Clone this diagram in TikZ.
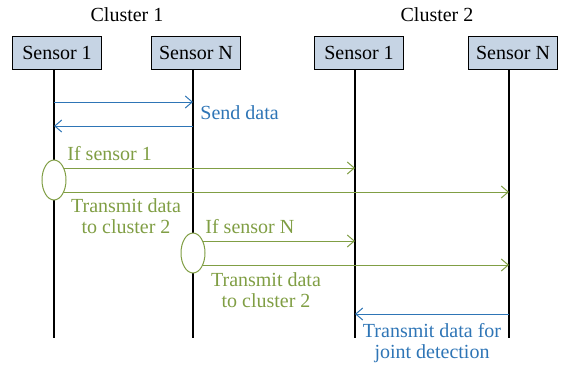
\documentclass[tikz,border=0pt]{standalone}
\usepackage{fontspec}
\setmainfont{Liberation Serif}
\usetikzlibrary{arrows.meta,shapes.geometric}
\definecolor{boxfill}{RGB}{198,212,228}
\definecolor{msgblue}{RGB}{46,117,182}
\definecolor{msggreen}{RGB}{128,158,68}
\tikzset{
  sensor/.style={draw, fill=boxfill, line width=0.6pt, inner sep=0pt,
                 minimum width=44.5pt, minimum height=16.5pt, font=\fontsize{10}{12}\selectfont},
  life/.style={line width=0.6pt},
  bluemsg/.style={draw=msgblue, line width=0.5pt, -{Straight Barb[length=3.5pt,width=6pt]}},
  greenmsg/.style={draw=msggreen, line width=0.5pt, -{Straight Barb[length=3.5pt,width=6pt]}},
  choice/.style={ellipse, draw=msggreen, fill=white, line width=0.5pt, inner sep=0pt,
                 minimum width=12pt, minimum height=20pt},
  bluetext/.style={text=msgblue, font=\fontsize{10}{10.5}\selectfont, align=center, inner sep=0pt},
  greentext/.style={text=msggreen, font=\fontsize{10}{10.5}\selectfont, align=center, inner sep=0pt}
}
\begin{document}
\begin{tikzpicture}[x=0.5pt,y=-0.5pt]
  \useasboundingbox (0,0) rectangle (561,370);
  % headings
  \node[font=\fontsize{10}{12}\selectfont] (C1) at (127,15) {Cluster 1};
  \node[font=\fontsize{10}{12}\selectfont] (C2) at (437,15) {Cluster 2};
  % sensors and lifelines
  \node[sensor] (S11) at (57,53) {Sensor 1};
  \node[sensor] (S1N) at (196,53) {Sensor N};
  \node[sensor] (S21) at (359,53) {Sensor 1};
  \node[sensor] (S2N) at (513,53) {Sensor N};
  \coordinate (E11) at (54,338);
  \coordinate (E1N) at (193,338);
  \coordinate (E21) at (355,338);
  \coordinate (E2N) at (509,338);
  \draw[life] (S11.south -| E11) -- (E11);
  \draw[life] (S1N.south -| E1N) -- (E1N);
  \draw[life] (S21.south -| E21) -- (E21);
  \draw[life] (S2N.south -| E2N) -- (E2N);
  % send data inside cluster 1
  \draw[bluemsg] (E11 |- 0,102) -- (E1N |- 0,102);
  \draw[bluemsg] (E1N |- 0,126) -- (E11 |- 0,126);
  \node[bluetext, anchor=west] (send) at (200,113) {Send data};
  % sensor 1 of cluster 1 transmits
  \draw[greenmsg] (E11 |- 0,168) -- (E21 |- 0,168);
  \draw[greenmsg] (E11 |- 0,192) -- (E2N |- 0,192);
  \node[choice] (if1) at (54,180) {};
  \node[greentext, anchor=west] (cond1) at (67,154) {If sensor 1};
  \node[greentext] (tx1) at (126,216) {Transmit data\\to cluster 2};
  % sensor N of cluster 1 transmits
  \draw[greenmsg] (E1N |- 0,241) -- (E21 |- 0,241);
  \draw[greenmsg] (E1N |- 0,265) -- (E2N |- 0,265);
  \node[choice] (ifN) at (193,253) {};
  \node[greentext, anchor=west] (condN) at (205,227) {If sensor N};
  \node[greentext] (txN) at (266,290) {Transmit data\\to cluster 2};
  % joint detection in cluster 2
  \draw[bluemsg] (E2N |- 0,314) -- (E21 |- 0,314);
  \node[bluetext] (joint) at (432,343) {Transmit data for\\joint detection};
\end{tikzpicture}
\end{document}
